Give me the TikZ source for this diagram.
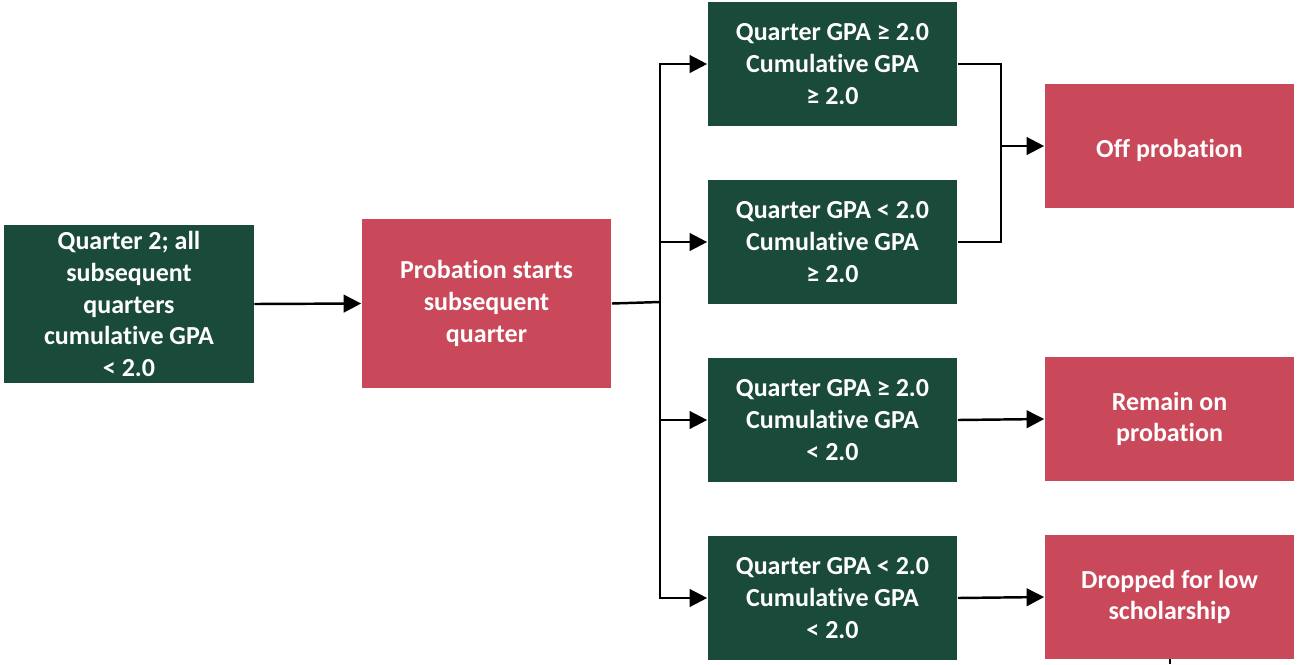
\documentclass[tikz,border=0pt]{standalone}
\usepackage{fontspec}
\setmainfont{Carlito}[Ligatures={NoCommon}]
\usetikzlibrary{arrows.meta}
\definecolor{gpagreen}{HTML}{1A4A3A}
\definecolor{gparose}{HTML}{C9485A}
\tikzset{
  greenbox/.style={fill=gpagreen, text=white, font=\bfseries\fontsize{14.8}{18}\selectfont,
    align=center, minimum width=5cm, minimum height=2.48cm, inner sep=0pt,
    execute at begin node={\rule{0pt}{15.5pt}}},
  rosebox/.style={greenbox, fill=gparose},
  flow/.style={-{Triangle[length=10pt,width=10pt]}, line width=1.4pt},
  link/.style={line width=1.4pt},
}
\begin{document}
\begin{tikzpicture}[x=0.02cm,y=-0.02cm]
    \useasboundingbox (0,0) rectangle (1298,664);

    \node[greenbox, minimum height=3.16cm] (start) at (129,304) {Quarter 2; all\\subsequent\\quarters\\cumulative GPA\\< 2.0};
    \node[rosebox, minimum height=3.38cm] (prob) at (486.5,303.5) {Probation starts\\subsequent\\quarter};

    \node[greenbox] (q1) at (832.5,64) {Quarter GPA ≥ 2.0\\Cumulative GPA\\≥ 2.0};
    \node[greenbox] (q2) at (832.5,242) {Quarter GPA < 2.0\\Cumulative GPA\\≥ 2.0};
    \node[greenbox] (q3) at (832.5,420) {Quarter GPA ≥ 2.0\\Cumulative GPA\\< 2.0};
    \node[greenbox] (q4) at (832.5,598) {Quarter GPA < 2.0\\Cumulative GPA\\< 2.0};

    \node[rosebox] (off) at (1169.5,146) {Off probation};
    \node[rosebox] (remain) at (1169.5,419) {Remain on\\probation};
    \node[rosebox] (dropped) at (1169.5,597) {Dropped for low\\scholarship};

    \coordinate (split) at (660,302);
    \coordinate (join) at (1001,146);
    \coordinate (stub) at (1170,664);

    \draw[flow] (start.east) -- (prob.west);
    \draw[link] (prob.east) -- (split);
    \foreach \q in {q1,q2,q3,q4}
        \draw[flow] (split) |- (\q.west);

    \draw[link] (q1.east) -| (join);
    \draw[link] (q2.east) -| (join);
    \draw[flow] (join) -- (off.west);
    \draw[flow] (q3.east) -- (remain.west);
    \draw[flow] (q4.east) -- (dropped.west);
    \draw[link] (dropped.south -| stub) -- (stub);
\end{tikzpicture}
\end{document}
